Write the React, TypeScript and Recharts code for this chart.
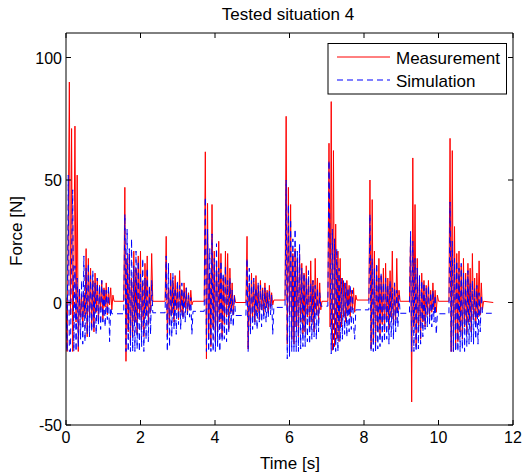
import React from "react";
import { LineChart, Line, XAxis, YAxis, ReferenceLine } from "recharts";

// burst onsets [s]; samples inside a burst are STEP apart
const BURST_START = [0, 1.55, 2.66, 3.71, 4.83, 5.88, 7.03, 8.13, 9.22, 10.28];
const STEP = 0.03;

// Measurement [N], one array per burst
const meas1 = [2, -20, 30, 90, -5, 71, -20, 10, 72, -8, 52, -20, 5, -6, 3, -10, 4, -5, 22, -14, 18, -6, 14, -10, 9, -12, 12, -4, 10, -8, 7, -3, 9, -7, 6, -2, 8, -5, 5, -1, 6, -3, 3, 0.5];
const meas2 = [0.5, 47, -24, 18, -12, 20, -16, 10, -14, 21, -8, 14, -13, 19, -6, 21, -11, 8, -14, 16, -5, 19, -9, 6, -4, 20, 0.5];
const meas3 = [0.5, 27, -14, 6, -9, 12, -5, 9, -8, 11, -3, 7, -7, 13, -4, 5, -6, 8, -2, 6, -5, 4, -3, 5, -1, 0.5];
const meas4 = [0.5, 61.5, -23, 40.5, -15, 12, -18, 40, -10, 21, -16, 15, -12, 25, -8, 20, -14, 10, -9, 21, -6, 20, -11, 14, -4, 8, -5, 3, 0];
const meas5 = [0, 27, -19, 8, -10, 12, -6, 9, -8, 11, -4, 7, -7, 9, -3, 6, -5, 8, -2, 5, -4, 7, -2, 4, -1, 1];
const meas6 = [1, 76, -17, 47, -5, 40, -15, 20, -17, 22, -10, 18, -14, 20, -8, 16, -13, 12, -12, 15, -6, 10, -11, 17, -8, 9, -12, 18, -5, 10, -7, 8, -3, 0.5];
const meas7 = [0.5, 65, -10, 82, -19.5, 62, -18, 32, -15, 21, -16, 18, -10, 10, -6, 8, -8, 9, -4, 7, -6, 5, -3, 6, -4, 3, 1];
const meas8 = [1, 50, -19, 42, -16, 21, -18, 15, -12, 18, -14, 11, -9, 14, -12, 16, -7, 10, -11, 13, -6, 21, -9, 8, -7, 18, -4, 5, 0.5];
const meas9 = [0.5, 27, -40.6, 59, -10, 40, -18, 18, -12, 10, -15, 12, -8, 9, -10, 7, -5, 9, -6, 5, -4, 8, -3, 5, -4, 3, 0.5];
const meas10 = [0.5, 67, -20, 62, -20, 31, -19, 20, -16, 21, -12, 15, -15, 18, -10, 12, -13, 16, -8, 14, -12, 20, -7, 10, -9, 12, -6, 17, -5, 8, -3, 0.5];
const measEnd = { t: 11.47, v: 0 };

// Simulation [N], one array per burst
const sim1 = [0, -20, 52, -20, -20, 20, 46, -20, 15, -20, 10, -18, 6, -15, 9, -17, 19, -16, 14, -13, 16, -14, 11, -12, 13, -11, 8, -13, 10, -9, 7, -11, 9, -8, 6, -10, 5, -7, 7, -16, -2, -4.6];
const sim2 = [-4.6, 36, -20, 30, -20, 22, -20, 26, -20, 15, -20, 21, -19, 17, -20, 12, -18, 18, -20, 10, -15, 14, -16, 7, -13, 9, -4.2];
const sim3 = [-4.2, 19, -20, 16, -18, 10, -14, 12, -11, 6, -13, 9, -9, 7, -11, 8, -7, 5, -8, 6, -5, 3, -6, 2, -13, -3.6];
const sim4 = [-3.6, 43, -20, 30, -20, 22, -20, 28, -20, 18, -20, 24, -18, 14, -20, 17, -16, 12, -15, 15, -16, 9, -12, 10, -9, 5, -10, 3, -5.3];
const sim5 = [-5.3, 18, -20, 14, -13, 9, -11, 10, -9, 6, -11, 8, -8, 7, -10, 5, -7, 6, -8, 4, -6, 5, -5, 3, -13, -2];
const sim6 = [-2, 50, -23, 40, -22, 34, -20, 26, -20, 30, -20, 21, -20, 24, -19, 14, -18, 12, -18, 10, -16, 13, -17, 8, -15, 9, -14, 7, -15, 6, -12, 4, -1.5];
const sim7 = [-1.5, 58, 20, -21, 30, -20, 26, -20, 22, -20, 14, -16, 10, -15, 9, -13, 8, -14, 6, -12, 7, -11, 5, -9, -15, -3];
const sim8 = [-3, 36, -20, 18, -20, 14, -20, 16, -19, 10, -18, 12, -17, 8, -16, 10, -15, 7, -17, 9, -14, 6, -15, 8, -12, 5, -10, 3, -4.4];
const sim9 = [-4.4, 29, -20, 25, -20, 18, -20, 14, -19, 11, -17, 9, -14, 8, -11, 6, -10, 7, -9, 4, -10, 5, -8, 3, -13, -4.6];
const sim10 = [-4.6, 41, -20, 25, -20, 18, -20, 17, -20, 14, -20, 16, -19, 12, -20, 10, -18, 13, -17, 8, -16, 9, -17, 6, -15, 7, -17, 4, -12, 3, -4.4];
const simEnd = { t: 11.43, v: -4.4 };

const X_TICKS = [0, 2, 4, 6, 8, 10, 12];
const Y_TICKS = [-50, 0, 50, 100];

const PLOT_TOP = 33;
const PLOT_BOTTOM = 425;
const PLOT_LEFT = 66;
const PLOT_RIGHT = 513;
const FONT = "'Liberation Sans', Arial, Helvetica, sans-serif";

function buildSeries(bursts: number[][], end: { t: number; v: number }) {
  const rows: { t: number; v: number }[] = [];
  bursts.forEach((vals, i) => {
    vals.forEach((v, j) => {
      rows.push({ t: +(BURST_START[i] + j * STEP).toFixed(3), v });
    });
  });
  rows.push(end);
  return rows;
}

const measured = buildSeries(
  [meas1, meas2, meas3, meas4, meas5, meas6, meas7, meas8, meas9, meas10],
  measEnd,
);
const simulated = buildSeries(
  [sim1, sim2, sim3, sim4, sim5, sim6, sim7, sim8, sim9, sim10],
  simEnd,
);

const XTick = (props: any) => {
  const { x, payload } = props;
  return (
    <g>
      <line x1={x} x2={x} y1={PLOT_BOTTOM} y2={PLOT_BOTTOM - 5} stroke="#000" />
      <line x1={x} x2={x} y1={PLOT_TOP} y2={PLOT_TOP + 5} stroke="#000" />
      <text x={x} y={PLOT_BOTTOM + 18} textAnchor="middle" fontSize={16} fontFamily={FONT} fill="#000">
        {payload.value}
      </text>
    </g>
  );
};

const YTick = (props: any) => {
  const { y, payload } = props;
  return (
    <g>
      <line x1={PLOT_LEFT} x2={PLOT_LEFT + 5} y1={y} y2={y} stroke="#000" />
      <line x1={PLOT_RIGHT} x2={PLOT_RIGHT - 5} y1={y} y2={y} stroke="#000" />
      <text x={PLOT_LEFT - 4} y={y + 6} textAnchor="end" fontSize={16} fontFamily={FONT} fill="#000">
        {payload.value}
      </text>
    </g>
  );
};

export default function App() {
  return (
    <div style={{ position: "absolute", left: 0, top: 0, width: 525, height: 476, background: "#fff" }}>
      <LineChart
        width={525}
        height={476}
        margin={{ top: PLOT_TOP, right: 525 - PLOT_RIGHT, bottom: 21, left: PLOT_LEFT - 40 }}
      >
        <XAxis
          type="number"
          dataKey="t"
          domain={[0, 12]}
          ticks={X_TICKS}
          allowDataOverflow
          height={30}
          tickSize={0}
          tickMargin={0}
          tickLine={false}
          axisLine={{ stroke: "#000" }}
          tick={<XTick />}
        />
        <YAxis
          type="number"
          domain={[-50, 110]}
          ticks={Y_TICKS}
          allowDataOverflow
          width={40}
          tickSize={0}
          tickMargin={0}
          tickLine={false}
          axisLine={{ stroke: "#000" }}
          tick={<YTick />}
        />
        <ReferenceLine y={110} stroke="#000" />
        <ReferenceLine x={12} stroke="#000" />
        <Line
          data={measured}
          dataKey="v"
          stroke="#ff0000"
          strokeWidth={1}
          dot={false}
          type="linear"
          isAnimationActive={false}
        />
        <Line
          data={simulated}
          dataKey="v"
          stroke="#0000ff"
          strokeWidth={1}
          strokeDasharray="6 4"
          dot={false}
          type="linear"
          isAnimationActive={false}
        />
      </LineChart>
      <svg
        width={525}
        height={476}
        style={{ position: "absolute", left: 0, top: 0, pointerEvents: "none" }}
        fontFamily={FONT}
      >
        <text x={288} y={20} textAnchor="middle" fontSize={17}>
          Tested situation 4
        </text>
        <text x={290} y={469} textAnchor="middle" fontSize={17}>
          Time [s]
        </text>
        <text transform="translate(22,231) rotate(-90)" textAnchor="middle" fontSize={17}>
          Force [N]
        </text>
        <rect x={328} y={43.5} width={178.5} height={50.5} fill="#fff" stroke="#000" />
        <line x1={337} x2={390} y1={57} y2={57} stroke="#ff0000" />
        <text x={396} y={63.5} fontSize={17}>
          Measurement
        </text>
        <line x1={337} x2={390} y1={80} y2={80} stroke="#0000ff" strokeDasharray="6 4" />
        <text x={396} y={86.5} fontSize={17}>
          Simulation
        </text>
      </svg>
    </div>
  );
}
